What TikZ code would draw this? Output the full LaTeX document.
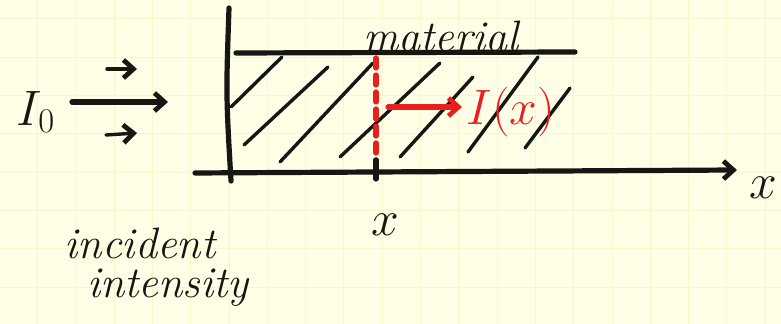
\documentclass[tikz,border=0pt]{standalone}
\usetikzlibrary{arrows.meta,positioning}
\definecolor{paper}{RGB}{255,255,232}
\definecolor{gridline}{RGB}{250,245,203}
\definecolor{ink}{RGB}{22,22,18}
\definecolor{redink}{RGB}{232,32,28}
\tikzset{
  pen/.style={ink,line width=2.6pt,line cap=round,line join=round},
  hatch/.style={ink,line width=1.7pt,line cap=round},
  redpen/.style={redink,line width=2.6pt,line cap=round},
  hand/.style={ink,inner sep=0pt,font=\fontsize{22}{26}\selectfont\itshape},
}
\begin{document}
\begin{tikzpicture}[x=0.5pt,y=-0.5pt,>={Straight Barb[length=5pt,width=9pt,line width=2.4pt]}]
  \useasboundingbox (0,0) rectangle (781,324);
  \fill[paper] (0,0) rectangle (781,324);
  % squared paper
  \foreach \gx in {0,...,19} \draw[gridline,line width=0.5pt] (37.5+38.3*\gx,0) -- ++(0,324);
  \foreach \gy in {0,...,7} \draw[gridline,line width=0.5pt] (0,19+38.3*\gy) -- ++(781,0);

  % wall and axis
  \coordinate (wallT) at (229,8);
  \coordinate (wallB) at (231,181);
  \draw[pen] (wallT) .. controls (226,95) .. (wallB);
  \coordinate (axL) at (195,173);
  \coordinate (axR) at (737,170);
  \draw[pen,->] (axL) -- (axR);
  \node[hand,font=\fontsize{24}{28}\selectfont] (xaxis) at (763,188) {$x$};

  % material slab
  \coordinate (topL) at (236,53);
  \coordinate (topR) at (575,52);
  \draw[pen] (topL) -- (topR);
  \node[hand] (material) at (441,36) {material};
  \foreach \ax/\ay/\bx/\by in {231/107/282/57, 244/145/328/67, 280/162/373/63,
      340/157/440/63, 400/157/473/77, 468/152/538/57, 525/148/570/88}
    \draw[hatch] (\ax,\ay) -- (\bx,\by);

  % position x inside the slab
  \coordinate (cutT) at (376,58);
  \coordinate (cutB) at (376,166);
  \draw[redpen,dash pattern=on 5pt off 3.5pt] (cutT) -- (cutB);
  \draw[pen] (376,160) -- (376,179);
  \node[hand,font=\fontsize{24}{28}\selectfont] (xpos) at (385,225) {$x$};

  % transmitted intensity
  \coordinate (flowA) at (388,107);
  \coordinate (flowB) at (462,107);
  \draw[redpen,->,redink] (flowA) -- (flowB);
  \node[hand,redink,font=\fontsize{24}{28}\selectfont] (Ix) at (511,112) {$I(x)$};

  % incident beam
  \node[hand,font=\fontsize{26}{30}\selectfont] (I0) at (36,112) {$I_0$};
  \coordinate (beamA) at (72,102);
  \coordinate (beamB) at (168,102);
  \coordinate (upA) at (107,69);
  \coordinate (upB) at (137,69);
  \coordinate (loA) at (106,135);
  \coordinate (loB) at (137,133);
  \draw[pen,->] (beamA) -- (beamB);
  \draw[hatch,->] (upA) -- (upB);
  \draw[hatch,->] (loA) -- (loB);
  \node[hand] (incident) at (140,243) {incident};
  \node[hand] (intensity) at (168,288) {intensity};
\end{tikzpicture}
\end{document}
